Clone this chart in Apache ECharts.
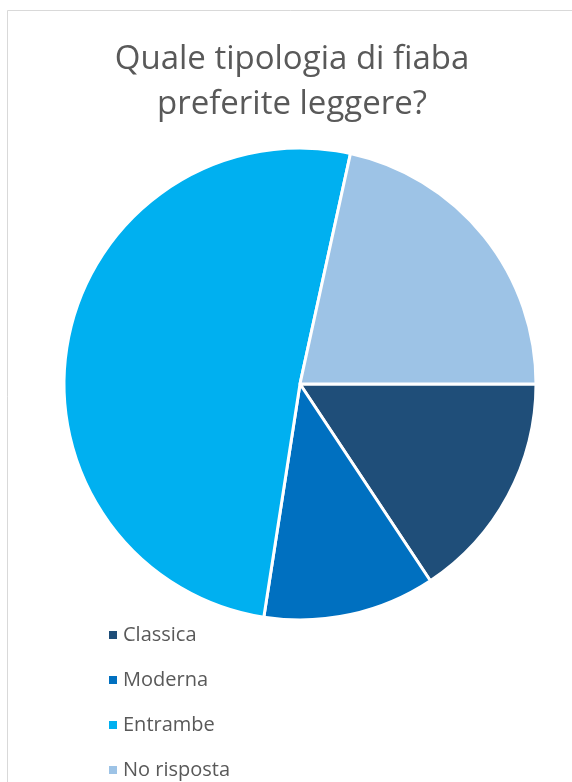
<!DOCTYPE html>
<html>
<head>
<meta charset="utf-8">
<script src="https://cdn.jsdelivr.net/npm/echarts@6/dist/echarts.min.js"></script>
<style>
html,body{margin:0;padding:0;background:#fff;}
#chart{width:572px;height:782px;}
</style>
</head>
<body>
<div id="chart"></div>
<script>
var titleText = 'Quale tipologia di fiaba\npreferite leggere?';
var categories = ['Classica', 'Moderna', 'Entrambe', 'No risposta'];
var values = [8, 6, 26, 11];
var colors = ['#1F4E79', '#0070C0', '#00B0F0', '#9DC3E6'];

var chart = echarts.init(document.getElementById('chart'), null, {renderer: 'canvas'});
var data = categories.map(function (c, i) {
  return {name: c, value: values[i], itemStyle: {color: colors[i]}};
});
chart.setOption({
  animation: false,
  backgroundColor: '#ffffff',
  graphic: [{
    type: 'rect',
    shape: {x: 7.5, y: 10.5, width: 700, height: 900},
    style: {fill: 'none', stroke: '#d9d9d9', lineWidth: 1},
    silent: true,
    z: -10
  }],
  title: {
    text: titleText,
    left: 287,
    textAlign: 'center',
    top: 32,
    textStyle: {
      fontFamily: 'Open Sans',
      fontSize: 33,
      fontWeight: 'normal',
      color: '#595959',
      lineHeight: 45
    }
  },
  legend: {
    orient: 'vertical',
    left: 102,
    top: 620,
    height: 400,
    icon: 'rect',
    itemWidth: 10,
    itemHeight: 10,
    itemGap: 25,
    data: categories,
    textStyle: {
      fontFamily: 'Open Sans',
      fontSize: 20,
      color: '#595959',
      lineHeight: 20
    }
  },
  series: [{
    type: 'pie',
    center: [300, 384],
    radius: 236,
    startAngle: 0,
    clockwise: true,
    data: data,
    label: {show: false},
    labelLine: {show: false},
    itemStyle: {borderColor: '#ffffff', borderWidth: 3},
    emphasis: {disabled: true}
  }]
});
</script>
</body>
</html>
